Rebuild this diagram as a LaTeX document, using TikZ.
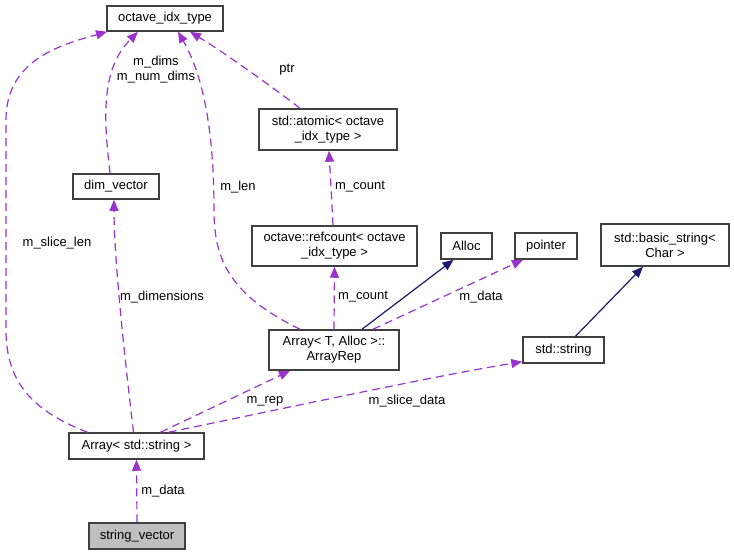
\documentclass[tikz,border=0pt]{standalone}
\usepackage{fontspec}
\setmainfont{Liberation Sans}
\usetikzlibrary{arrows.meta,positioning}
\tikzset{>={Triangle[length=11pt,width=9pt]}}
\definecolor{member}{HTML}{9A32CD}
\definecolor{inherit}{HTML}{191970}
\definecolor{boxline}{HTML}{404040}
\definecolor{current}{HTML}{BFBFBF}
\tikzset{
  cls/.style={draw=boxline,fill=white,line width=1.5pt,inner sep=0pt,align=center,font=\fontsize{13}{15}\selectfont},
  use/.style={->,member,dash pattern=on 8pt off 5pt,line width=1.2pt},
  base/.style={->,inherit,line width=1.2pt},
  lbl/.style={inner sep=0pt,align=center,font=\fontsize{13}{15}\selectfont}
}

\begin{document}
\begin{tikzpicture}[x=1pt,y=-1pt]
  \useasboundingbox (0,0) rectangle (734,555);

  \node[cls,minimum width=116,minimum height=25] (idx) at (165,18.5) {octave\_idx\_type};
  \node[cls,minimum width=138,minimum height=41] (atomic) at (328,129.5) {std::atomic< octave\\\_idx\_type >};
  \node[cls,minimum width=86,minimum height=25] (dimv) at (116,186.5) {dim\_vector};
  \node[cls,minimum width=165,minimum height=40] (refc) at (334.5,246) {octave::refcount< octave\\\_idx\_type >};
  \node[cls,minimum width=51,minimum height=26] (alloc) at (466.5,246) {Alloc};
  \node[cls,minimum width=62,minimum height=26] (ptr) at (546,246) {pointer};
  \node[cls,minimum width=128,minimum height=42] (bstr) at (665,245) {std::basic\_string<\\Char >};
  \node[cls,minimum width=130,minimum height=40] (rep) at (334,350) {Array< T, Alloc >::\\ArrayRep};
  \node[cls,minimum width=81,minimum height=26] (sstr) at (563.5,350) {std::string};
  \node[cls,minimum width=135,minimum height=26] (arr) at (136.5,446) {Array< std::string >};
  \node[cls,fill=current,minimum width=96,minimum height=26] (sv) at (137,536) {string\_vector};

  \draw[use] ([xshift=-49]arr.north) .. controls (30,410) and (6,380) .. (6,330) -- (6,120) .. controls (6,60) and (60,45) .. ([xshift=-58]idx.south);
  \draw[use] ([xshift=-6]dimv.north) .. controls (104,120) and (100,70) .. ([xshift=-27]idx.south);
  \draw[use] ([xshift=-34]rep.north) .. controls (230,295) and (214,260) .. (214,210) .. controls (214,120) and (200,70) .. ([xshift=13]idx.south);
  \draw[use] ([xshift=-28]atomic.north) .. controls (270,85) and (220,50) .. ([xshift=25]idx.south);
  \draw[use] ([xshift=-1.5]refc.north) -- ([xshift=1]atomic.south);
  \draw[use] (rep.north) -- (refc.south);
  \draw[base] ([xshift=28]rep.north) -- ([xshift=-13]alloc.south);
  \draw[use] ([xshift=39]rep.north) -- ([xshift=-23]ptr.south);
  \draw[base] ([xshift=12]sstr.north) -- ([xshift=-22]bstr.south);
  \draw[use] ([xshift=-3]arr.north) .. controls (125,360) and (114,260) .. ([xshift=-2]dimv.south);
  \draw[use] ([xshift=24]arr.north) -- ([xshift=-44]rep.south);
  \draw[use] ([xshift=32]arr.north) .. controls (300,405) and (440,375) .. ([yshift=2]sstr.south west);
  \draw[use] (sv.north) -- (arr.south);

  \node[lbl] (l1) at (57,243) {m\_slice\_len};
  \node[lbl] (l2) at (156,70) {m\_dims\\m\_num\_dims};
  \node[lbl] (l3) at (238,187) {m\_len};
  \node[lbl] (l4) at (287,70) {ptr};
  \node[lbl] (l5) at (360,187) {m\_count};
  \node[lbl] (l6) at (363,297) {m\_count};
  \node[lbl] (l7) at (481,297) {m\_data};
  \node[lbl] (l8) at (162,297) {m\_dimensions};
  \node[lbl] (l9) at (265,401) {m\_rep};
  \node[lbl] (l10) at (407,401) {m\_slice\_data};
  \node[lbl] (l11) at (163,491) {m\_data};

\end{tikzpicture}
\end{document}
